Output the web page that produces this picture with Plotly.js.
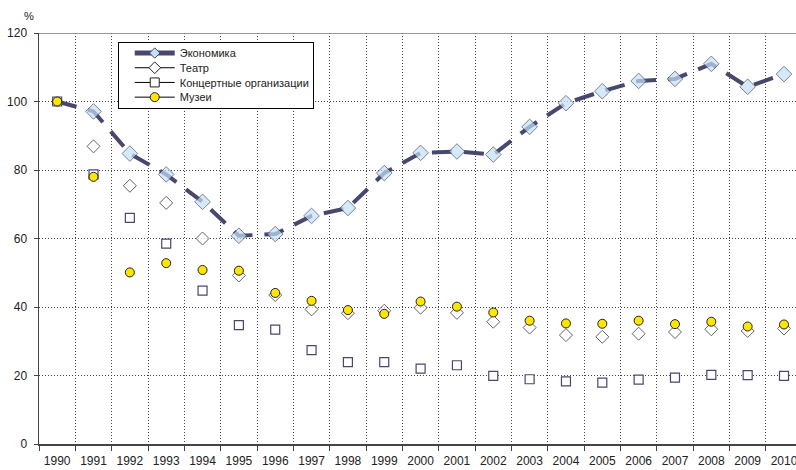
<!DOCTYPE html>
<html>
<head>
<meta charset="utf-8">
<script src="https://cdn.plot.ly/plotly-3.0.1.min.js"></script>
<style>html,body{margin:0;padding:0;background:#fff;}#chart{width:796px;height:470px;}</style>
</head>
<body>
<div id="chart"></div>
<script>
const years = ["1990","1991","1992","1993","1994","1995","1996","1997","1998","1999","2000","2001","2002","2003","2004","2005","2006","2007","2008","2009","2010"];
const economy = [100,97.1,84.8,78.7,70.7,60.8,61.3,66.6,68.9,79.1,85.0,85.4,84.5,92.6,99.5,103.0,106.0,106.6,111.0,104.3,108.0];
const theatre = [100,86.9,75.4,70.4,60.0,49.2,43.5,39.3,38.2,38.9,39.8,38.3,35.7,34.0,31.8,31.3,32.2,32.7,33.5,33.0,33.7];
const concerts = [100,78.7,66.0,58.5,44.8,34.7,33.4,27.4,23.9,23.9,22.0,23.0,19.9,18.9,18.3,17.9,18.8,19.4,20.2,20.1,19.9];
const museums = [100,78.0,50.1,52.8,50.8,50.6,44.1,41.8,39.1,38.0,41.6,40.1,38.4,36.0,35.2,35.1,36.0,35.0,35.7,34.3,34.9];
const names = ["Экономика","Театр","Концертные организации","Музеи"];
const yTicks = [0,20,40,60,80,100,120];

const navy = "#48476e";
// in the reference the base year (1990) shows only the museum circle over the concert square
const baseHidden = function (size) { return years.map(function (_, i) { return i === 0 ? 0 : size; }); };

const traces = [
  {x: years, y: economy, name: names[0], type: "scatter", mode: "lines+markers", showlegend: false,
   line: {color: navy, width: 4, dash: "20px,12px"},
   marker: {symbol: "diamond", size: baseHidden(12), color: "#c3e2f6", line: {color: navy, width: 1}}},
  {x: years, y: theatre, name: names[1], type: "scatter", mode: "markers", showlegend: false,
   marker: {symbol: "diamond", size: baseHidden(10), color: "#ffffff", line: {color: "#222222", width: 1}}},
  {x: years, y: concerts, name: names[2], type: "scatter", mode: "markers", showlegend: false,
   marker: {symbol: "square", size: 9, color: "#ffffff", line: {color: navy, width: 1.2}}},
  {x: years, y: museums, name: names[3], type: "scatter", mode: "markers", showlegend: false,
   marker: {symbol: "circle", size: 9, color: "#ffe600", line: {color: "#222222", width: 1}}},
  // legend entries
  {x: [null], y: [null], name: names[0], type: "scatter", mode: "lines+markers",
   line: {color: navy, width: 5},
   marker: {symbol: "diamond", size: 8, color: "#c3e2f6", line: {color: navy, width: 1}}},
  {x: [null], y: [null], name: names[1], type: "scatter", mode: "lines+markers",
   line: {color: "#000000", width: 1},
   marker: {symbol: "diamond", size: 9, color: "#ffffff", line: {color: "#222222", width: 1}}},
  {x: [null], y: [null], name: names[2], type: "scatter", mode: "lines+markers",
   line: {color: "#000000", width: 1},
   marker: {symbol: "square", size: 9, color: "#ffffff", line: {color: "#222222", width: 1}}},
  {x: [null], y: [null], name: names[3], type: "scatter", mode: "lines+markers",
   line: {color: "#000000", width: 1},
   marker: {symbol: "circle", size: 9, color: "#ffe600", line: {color: "#222222", width: 1}}}
];

const layout = {
  width: 796, height: 470,
  margin: {l: 39, r: 0, t: 33, b: 26, pad: 0},
  paper_bgcolor: "#ffffff", plot_bgcolor: "#ffffff",
  font: {family: "Liberation Sans, Arial, sans-serif", size: 12, color: "#222222"},
  showlegend: true,
  legend: {x: 0.104, y: 0.978, xanchor: "left", yanchor: "top",
           bgcolor: "#ffffff", bordercolor: "#000000", borderwidth: 1,
           font: {size: 11, color: "#222222"}, tracegroupgap: 0, itemwidth: 40},
  xaxis: {type: "category", categoryorder: "array", categoryarray: years,
          range: [-0.5, 20.33], tickson: "boundaries", ticks: "outside", ticklen: 5,
          ticklabelstandoff: 5,
          tickcolor: "#444444", showgrid: true, gridcolor: "#444444", griddash: "1px,2px", gridwidth: 1,
          showline: true, linecolor: "#444444", linewidth: 1.5, zeroline: false, fixedrange: true,
          tickfont: {size: 12, color: "#222222"}},
  yaxis: {range: [0, 120], tickvals: yTicks, ticktext: yTicks.map(String), ticks: "outside", ticklen: 4,
          ticklabelstandoff: 4,
          tickcolor: "#444444", showgrid: true, gridcolor: "#444444", griddash: "1px,2px", gridwidth: 1,
          showline: true, linecolor: "#444444", linewidth: 1.5, zeroline: false, fixedrange: true,
          tickfont: {size: 12, color: "#222222"}},
  shapes: [{type: "line", xref: "paper", yref: "y", x0: 0, x1: 1, y0: 120, y1: 120,
            line: {color: "#777777", width: 1.5}}],
  annotations: [{text: "%", xref: "paper", yref: "paper", x: -0.004, y: 1.022, xanchor: "right", yanchor: "bottom",
                 showarrow: false, font: {size: 11, color: "#222222"}}]
};

Plotly.newPlot("chart", traces, layout, {displayModeBar: false, staticPlot: true}).then(function (gd) {
  // tighten legend rows and inset symbols to match the reference legend box
  const rowGap = 14.7, top = 11, inset = 12, boxW = 195;
  const items = gd.querySelectorAll(".legend .traces");
  items.forEach(function (el, i) {
    el.setAttribute("transform", "translate(" + inset + "," + (top + i * rowGap) + ")");
  });
  const boxH = top + (items.length - 1) * rowGap + 11;
  const bg = gd.querySelector(".legend rect.bg");
  if (bg) {
    bg.setAttribute("height", String(boxH));
    bg.setAttribute("width", String(boxW));
  }
  const sb = gd.querySelector(".legend .scrollbox");
  if (sb) sb.removeAttribute("clip-path");
  const legend = gd.querySelector(".legend");
  if (legend) legend.removeAttribute("clip-path");
});
</script>
</body>
</html>
